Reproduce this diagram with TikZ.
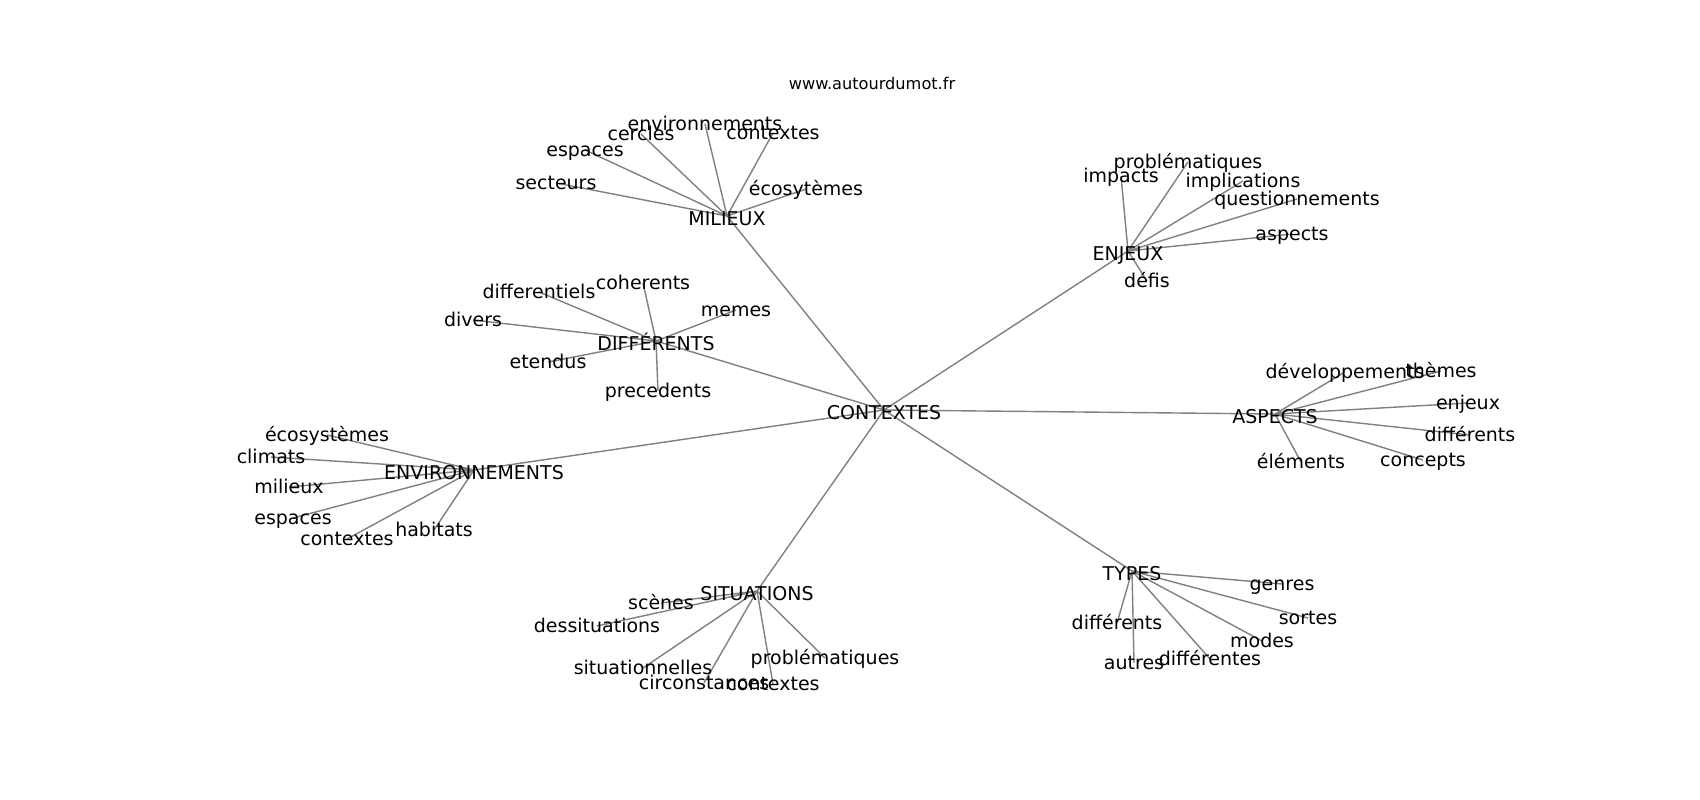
\documentclass[tikz,border=0pt]{standalone}
\usepackage{fontspec}
\setmainfont{DejaVu Sans}
\usetikzlibrary{backgrounds}
\begin{document}
\begin{tikzpicture}[x=0.01cm,y=-0.01cm,
  word/.style={inner sep=0pt,text height=3.9pt,text depth=0pt,font=\fontsize{5.4}{6}\selectfont},
  hub/.style={word,text height=5.3pt},
  edge/.style={draw=black!50,line width=0.4pt}]
\useasboundingbox (0,0) rectangle (1700,800);
\node[inner sep=0pt,font=\fontsize{4.6}{5}\selectfont](TTL) at (872,83){www.autourdumot.fr};
% centre
\node[hub](CTX) at (884,410){CONTEXTES};
% MILIEUX
\node[hub](MIL) at (727,216){MILIEUX};
\node[word](MIL1) at (705,124){environnements};
\node[word](MIL2) at (641,134){cercles};
\node[word](MIL3) at (773,133){contextes};
\node[word](MIL4) at (585,150){espaces};
\node[word](MIL5) at (556,183){secteurs};
\node[word](MIL6) at (806,189){écosytèmes};
% ENJEUX
\node[hub](ENJ) at (1128,251){ENJEUX};
\node[word](ENJ1) at (1188,162){problématiques};
\node[word](ENJ2) at (1121,176){impacts};
\node[word](ENJ3) at (1243,181){implications};
\node[word](ENJ4) at (1297,199){questionnements};
\node[word](ENJ5) at (1292,234){aspects};
\node[word](ENJ6) at (1147,281){défis};
% DIFFERENTS
\node[hub](DIF) at (656,341){DIFFÉRENTS};
\node[word](DIF1) at (643,283){coherents};
\node[word](DIF2) at (539,292){differentiels};
\node[word](DIF3) at (736,310){memes};
\node[word](DIF4) at (473,320){divers};
\node[word](DIF5) at (548,362){etendus};
\node[word](DIF6) at (658,391){precedents};
% ASPECTS
\node[hub](ASP) at (1275,414){ASPECTS};
\node[word](ASP1) at (1345,372){développements};
\node[word](ASP2) at (1441,371){thèmes};
\node[word](ASP3) at (1468,403){enjeux};
\node[word](ASP4) at (1470,435){différents};
\node[word](ASP5) at (1301,462){éléments};
\node[word](ASP6) at (1423,460){concepts};
% ENVIRONNEMENTS
\node[hub](ENV) at (474,470){ENVIRONNEMENTS};
\node[word](ENV1) at (327,435){écosystèmes};
\node[word](ENV2) at (271,457){climats};
\node[word](ENV3) at (289,487){milieux};
\node[word](ENV4) at (293,518){espaces};
\node[word](ENV5) at (434,530){habitats};
\node[word](ENV6) at (347,539){contextes};
% SITUATIONS
\node[hub](SIT) at (757,591){SITUATIONS};
\node[word](SIT1) at (661,603){scènes};
\node[word](SIT2) at (597,626){dessituations};
\node[word](SIT3) at (825,658){problématiques};
\node[word](SIT4) at (643,668){situationnelles};
\node[word](SIT5) at (704,683){circonstances};
\node[word](SIT6) at (773,684){contextes};
% TYPES
\node[hub](TYP) at (1132,571){TYPES};
\node[word](TYP1) at (1282,584){genres};
\node[word](TYP2) at (1308,618){sortes};
\node[word](TYP3) at (1117,623){différents};
\node[word](TYP4) at (1262,641){modes};
\node[word](TYP5) at (1134,663){autres};
\node[word](TYP6) at (1210,659){différentes};
\begin{pgfonlayer}{background}
\draw[edge] (CTX.center) -- (MIL.center) (CTX.center) -- (ENJ.center) (CTX.center) -- (DIF.center) (CTX.center) -- (ASP.center);
\draw[edge] (CTX.center) -- (ENV.center) (CTX.center) -- (SIT.center) (CTX.center) -- (TYP.center);
\draw[edge] (MIL.center) -- (MIL1.center) (MIL.center) -- (MIL2.center) (MIL.center) -- (MIL3.center);
\draw[edge] (MIL.center) -- (MIL4.center) (MIL.center) -- (MIL5.center) (MIL.center) -- (MIL6.center);
\draw[edge] (ENJ.center) -- (ENJ1.center) (ENJ.center) -- (ENJ2.center) (ENJ.center) -- (ENJ3.center);
\draw[edge] (ENJ.center) -- (ENJ4.center) (ENJ.center) -- (ENJ5.center) (ENJ.center) -- (ENJ6.center);
\draw[edge] (DIF.center) -- (DIF1.center) (DIF.center) -- (DIF2.center) (DIF.center) -- (DIF3.center);
\draw[edge] (DIF.center) -- (DIF4.center) (DIF.center) -- (DIF5.center) (DIF.center) -- (DIF6.center);
\draw[edge] (ASP.center) -- (ASP1.center) (ASP.center) -- (ASP2.center) (ASP.center) -- (ASP3.center);
\draw[edge] (ASP.center) -- (ASP4.center) (ASP.center) -- (ASP5.center) (ASP.center) -- (ASP6.center);
\draw[edge] (ENV.center) -- (ENV1.center) (ENV.center) -- (ENV2.center) (ENV.center) -- (ENV3.center);
\draw[edge] (ENV.center) -- (ENV4.center) (ENV.center) -- (ENV5.center) (ENV.center) -- (ENV6.center);
\draw[edge] (SIT.center) -- (SIT1.center) (SIT.center) -- (SIT2.center) (SIT.center) -- (SIT3.center);
\draw[edge] (SIT.center) -- (SIT4.center) (SIT.center) -- (SIT5.center) (SIT.center) -- (SIT6.center);
\draw[edge] (TYP.center) -- (TYP1.center) (TYP.center) -- (TYP2.center) (TYP.center) -- (TYP3.center);
\draw[edge] (TYP.center) -- (TYP4.center) (TYP.center) -- (TYP5.center) (TYP.center) -- (TYP6.center);
\end{pgfonlayer}
\end{tikzpicture}
\end{document}
